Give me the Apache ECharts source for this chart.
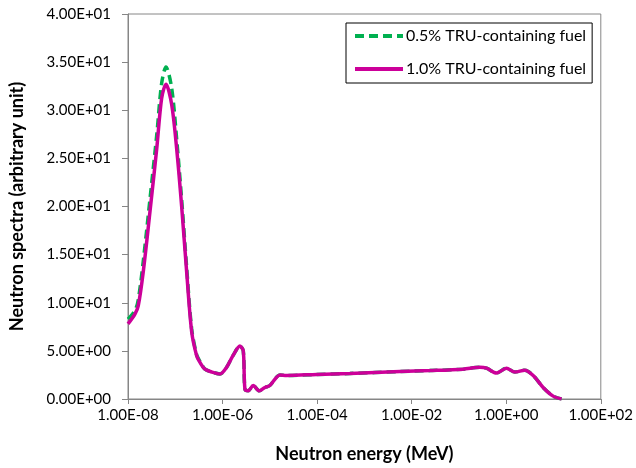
<!DOCTYPE html>
<html>
<head>
<meta charset="utf-8">
<script src="https://cdn.jsdelivr.net/npm/echarts@6/dist/echarts.min.js"></script>
<style>
html,body{margin:0;padding:0;background:#fff;}
#c{width:636px;height:468px;}
</style>
</head>
<body>
<div id="c"></div>
<script>
// Neutron energy (MeV)
const energy = [1.00e-8, 1.41e-8, 1.65e-8, 2.10e-8, 2.92e-8, 4.05e-8, 5.15e-8, 6.35e-8, 8.39e-8, 1.07e-7,
  1.36e-7, 1.74e-7, 2.22e-7, 2.83e-7, 3.33e-7, 4.25e-7, 5.97e-7, 8.81e-7, 1.22e-6, 1.66e-6,
  2.33e-6, 2.74e-6, 2.98e-6, 3.49e-6, 4.46e-6, 5.97e-6, 7.87e-6, 1.00e-5, 1.64e-5, 2.26e-5,
  9.75e-5, 4.93e-4, 5.64e-3, 2.43e-2, 1.21e-1, 2.77e-1, 3.83e-1, 6.24e-1, 1.01, 1.52,
  2.47, 3.71, 6.03, 9.82, 14.8];
const fuel05 = [8.3, 9.2, 10.3, 14.3, 20.8, 27.4, 32.8, 34.5, 32.3, 27.0,
  20.8, 13.7, 7.3, 4.6, 3.9, 3.1, 2.8, 2.6, 3.3, 4.5,
  5.5, 5.0, 1.0, 0.85, 1.4, 0.85, 1.2, 1.4, 2.5, 2.45,
  2.55, 2.65, 2.85, 2.95, 3.1, 3.3, 3.2, 2.7, 3.2, 2.8,
  3.0, 2.45, 1.2, 0.3, 0.0];
const fuel10 = [7.8, 8.85, 9.7, 13.2, 19.5, 26.0, 31.25, 32.7, 30.6, 26.0,
  20.1, 13.2, 7.0, 4.5, 3.8, 3.1, 2.8, 2.6, 3.3, 4.5,
  5.5, 5.0, 1.0, 0.85, 1.4, 0.85, 1.2, 1.4, 2.5, 2.45,
  2.55, 2.65, 2.85, 2.95, 3.1, 3.3, 3.2, 2.7, 3.2, 2.8,
  3.0, 2.45, 1.2, 0.3, 0.0];
const seriesNames = ['0.5% TRU-containing fuel', '1.0% TRU-containing fuel'];
const xTitle = 'Neutron energy (MeV)';
const yTitle = 'Neutron spectra (arbitrary unit)';

function sci(v) {
  if (v === 0) return '0.00E+00';
  let e = Math.floor(Math.log10(Math.abs(v)) + 1e-9);
  let m = v / Math.pow(10, e);
  if (Math.abs(m) >= 9.995) { m /= 10; e += 1; }
  const sign = e < 0 ? '-' : '+';
  const ae = Math.abs(e);
  return m.toFixed(2) + 'E' + sign + (ae < 10 ? '0' : '') + ae;
}

const FONT = 'Lato';
const chart = echarts.init(document.getElementById('c'), null, {renderer: 'canvas'});
const axisCol = '#868686';
chart.setOption({
  backgroundColor: '#fff',
  animation: false,
  textStyle: {fontFamily: FONT, color: '#000'},
  grid: {left: 128, right: 35, top: 14, bottom: 68, show: true, borderColor: axisCol, borderWidth: 1, backgroundColor: 'transparent'},
  legend: {
    orient: 'vertical', left: 346, top: 23,
    backgroundColor: '#fff', borderColor: '#000', borderWidth: 1,
    padding: [5, 6, 6, 7], itemWidth: 48, itemHeight: 14, itemGap: 17,
    itemStyle: {opacity: 0},
    lineStyle: {width: 4},
    textStyle: {fontFamily: FONT, fontSize: 16, color: '#000', padding: [0, 0, 0, -2]},
    data: seriesNames
  },
  xAxis: {
    type: 'log', logBase: 10, min: 1e-8, max: 1e2, interval: 2,
    name: xTitle, nameLocation: 'middle', nameGap: 46,
    nameTextStyle: {fontFamily: FONT, fontWeight: 'bold', fontSize: 18, color: '#000'},
    axisLine: {show: true, lineStyle: {color: axisCol, width: 1}},
    axisTick: {show: true, length: 5, lineStyle: {color: axisCol}},
    minorTick: {show: false},
    splitLine: {show: false},
    axisLabel: {fontFamily: FONT, fontSize: 15, color: '#000', margin: 9, formatter: v => sci(v)}
  },
  yAxis: {
    type: 'value', min: 0, max: 40, interval: 5,
    name: yTitle, nameLocation: 'middle', nameGap: 102,
    nameTextStyle: {fontFamily: FONT, fontWeight: 'bold', fontSize: 18, color: '#000'},
    axisLine: {show: true, lineStyle: {color: axisCol, width: 1}},
    axisTick: {show: true, length: 6, lineStyle: {color: axisCol}},
    splitLine: {show: false},
    axisLabel: {fontFamily: FONT, fontSize: 15, color: '#000', margin: 17, formatter: v => sci(v)}
  },
  series: [
    {
      name: seriesNames[0], type: 'line', symbol: 'none', smooth: 0.3,
      data: energy.map((e, i) => [e, fuel05[i]]),
      lineStyle: {color: '#00B050', width: 3.5, type: [9, 5]},
      itemStyle: {color: '#00B050'}, z: 2
    },
    {
      name: seriesNames[1], type: 'line', symbol: 'none', smooth: 0.3,
      data: energy.map((e, i) => [e, fuel10[i]]),
      lineStyle: {color: '#CC0099', width: 3.5},
      itemStyle: {color: '#CC0099'}, z: 3
    }
  ]
});
</script>
</body>
</html>
